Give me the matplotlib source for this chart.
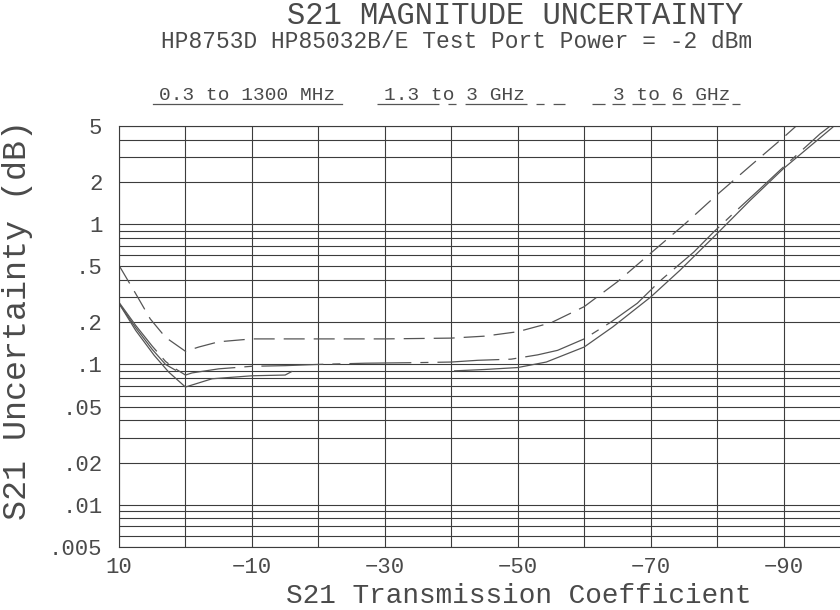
import matplotlib
matplotlib.use("Agg")
import matplotlib.pyplot as plt
import numpy as np
from matplotlib.ticker import FixedLocator, FixedFormatter, NullFormatter
from matplotlib.lines import Line2D

# ---- data -------------------------------------------------------------
# S21 transmission coefficient (dB) and magnitude uncertainty (dB)
lf_x = [10, 7.5, 4.7, 2.5, 0, -4, -10, -15, -16, np.nan,
        -40.5, -45, -50, -54.3, -60, -64.3, -70, -74.4, -80, -85, -90, -97.4]
lf_u = [0.272, 0.175, 0.116, 0.088, 0.069, 0.079, 0.083, 0.084, 0.089, np.nan,
        0.090, 0.092, 0.095, 0.104, 0.133, 0.185, 0.302, 0.468, 0.855, 1.48, 2.49, 4.9]

lf2_x = [10, 7.5, 5, 3, 1.5]
lf2_u = [0.272, 0.183, 0.128, 0.100, 0.091]

mid_x = [10, 7.5, 5, 3, 1.5, 0, -1, -5, -10, -15, -20, -27, -35, -40, -44, -49,
         -53, -56, -60, -64, -68, -71.5, -76.5, -79.5, -83, -86.5, -89.5, -95.5, -97.5]
mid_u = [0.277, 0.19, 0.135, 0.105, 0.093, 0.084, 0.087, 0.093, 0.097, 0.098, 0.100,
         0.102, 0.103, 0.104, 0.107, 0.109, 0.117, 0.126, 0.152, 0.200, 0.273, 0.397,
         0.632, 0.88, 1.26, 1.79, 2.43, 4.4, 5.2]

hf_x = [10, 7.5, 5.3, 3, 0, -2, -5, -10, -20, -30, -40, -45, -50, -55, -60, -65,
        -70, -75, -80, -85, -90, -92.5]
hf_u = [0.508, 0.32, 0.211, 0.156, 0.124, 0.133, 0.145, 0.152, 0.152, 0.152, 0.154,
        0.159, 0.171, 0.198, 0.258, 0.388, 0.62, 0.987, 1.62, 2.6, 4.15, 5.3]

band_labels = ["0.3 to 1300 MHz", "1.3 to 3 GHz", "3 to 6 GHz"]

x_ticks = [10, -10, -30, -50, -70, -90]
x_tick_labels = ["10", "\u221210", "\u221230", "\u221250", "\u221270", "\u221290"]
x_grid = [0, -20, -40, -60, -80, -100]

y_ticks = [5, 2, 1, 0.5, 0.2, 0.1, 0.05, 0.02, 0.01, 0.005]
y_tick_labels = ["5", "2", "1", ".5", ".2", ".1", ".05", ".02", ".01", ".005"]
y_grid = [m * 10.0 ** e for e in (-3, -2, -1, 0) for m in range(1, 10)
          if 0.005 <= m * 10.0 ** e <= 5]

# ---- style ------------------------------------------------------------
plt.rcParams["font.family"] = ["Liberation Mono", "DejaVu Sans Mono"]
plt.rcParams["lines.scale_dashes"] = False

ink = "#4a4a4a"
grid_c = "#3c3c3c"
curve_c = "#555555"
solid = "-"
long_dash_dot = (0, (44.6, 6.5, 5.8, 6.5))
dashed = (0, (15.1, 6.5))
legend_dashed = (0, (9.4, 5.0))

W, H = 840, 610
fig = plt.figure(figsize=(W / 100, H / 100), dpi=100)
ax = fig.add_axes([119 / W, 63 / H, 731 / W, 421 / H])
ax.set_yscale("log")
ax.set_xlim(10, -100)
ax.set_ylim(0.005, 5)

ax.xaxis.set_major_locator(FixedLocator(x_ticks))
ax.xaxis.set_major_formatter(FixedFormatter(x_tick_labels))
ax.xaxis.set_minor_locator(FixedLocator(x_grid))
ax.xaxis.set_minor_formatter(NullFormatter())
ax.yaxis.set_major_locator(FixedLocator(y_ticks))
ax.yaxis.set_major_formatter(FixedFormatter(y_tick_labels))
ax.yaxis.set_minor_locator(FixedLocator(y_grid))
ax.yaxis.set_minor_formatter(NullFormatter())

ax.grid(which="both", color=grid_c, linewidth=0.8)
ax.set_axisbelow(True)
ax.tick_params(which="both", length=0, colors=ink, labelsize=16)
ax.tick_params(axis="y", pad=12)
ax.tick_params(axis="x", pad=7)
for s in ax.spines.values():
    s.set_color(grid_c)
    s.set_linewidth(0.8)

# ---- curves -----------------------------------------------------------
ax.plot(lf_x, lf_u, color=curve_c, lw=0.9, linestyle=solid)
ax.plot(lf2_x, lf2_u, color=curve_c, lw=0.9, linestyle=solid)
ax.plot(mid_x, mid_u, color=curve_c, lw=0.9, linestyle=long_dash_dot)
ax.plot(hf_x, hf_u, color=curve_c, lw=0.9, linestyle=dashed)

# ---- titles, band key and axis labels --------------------------------
def fx(px):
    return px / W


def fy(py):
    return 1 - py / H


fig.text(fx(515), fy(16), "S21 MAGNITUDE UNCERTAINTY", ha="center", va="center",
         size=22, color=ink)
fig.text(fx(457), fy(41), "HP8753D HP85032B/E Test Port Power = -2 dBm",
         ha="center", va="center", size=16.5, color=ink)

key_centers = [247, 454, 672]
key_spans = [(153, 342), (377, 565), (592, 740)]
key_styles = [solid, long_dash_dot, legend_dashed]
for label, cx, (x0, x1), ls in zip(band_labels, key_centers, key_spans, key_styles):
    fig.text(fx(cx), fy(95), label, ha="center", va="center", size=14, color=ink)
    fig.add_artist(Line2D([fx(x0), fx(x1)], [fy(104), fy(104)],
                          transform=fig.transFigure, color=curve_c, lw=0.9,
                          linestyle=ls))

fig.text(fx(18), fy(320), "S21 Uncertainty (dB)", rotation=90, ha="center",
         va="center", size=24, color=ink)
fig.text(fx(519), fy(596), "S21 Transmission Coefficient", ha="center",
         va="center", size=20, color=ink)

fig.savefig("out.png", dpi=100)
